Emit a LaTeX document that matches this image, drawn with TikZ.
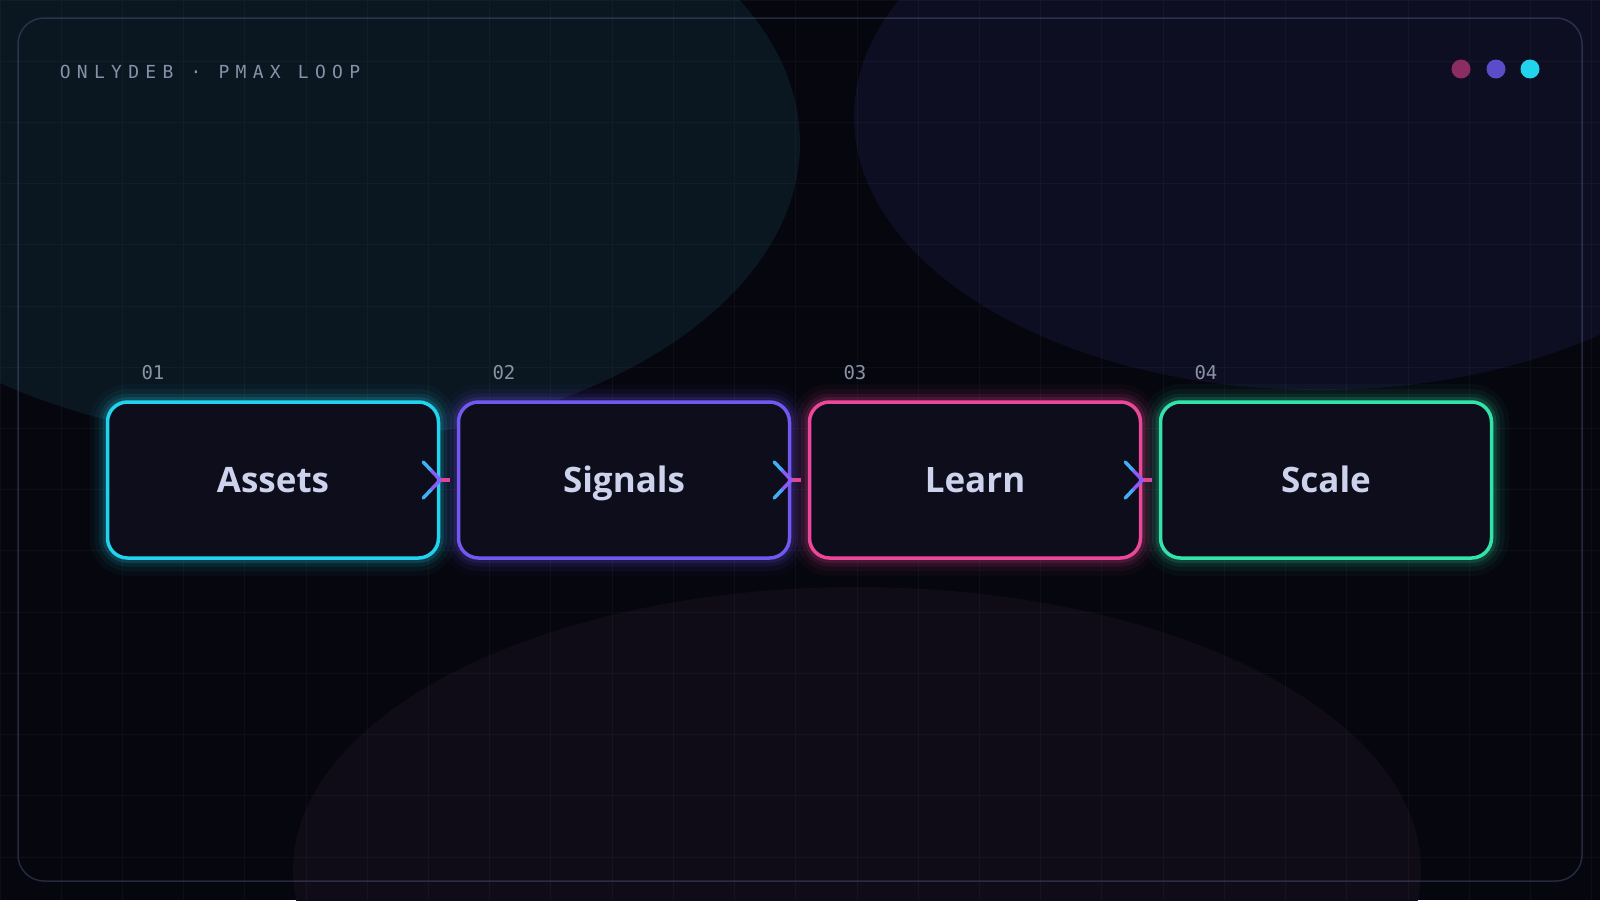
\documentclass[tikz,border=0pt]{standalone}
\usepackage{fontspec}
\setmainfont{Open Sans}
\newfontfamily\monofont{DejaVu Sans Mono}
\newfontfamily\spacedmono{DejaVu Sans Mono}[LetterSpace=35]
\usepackage{xcolor}
\usetikzlibrary{positioning,calc}

\definecolor{bgbase}{HTML}{05060E}
\definecolor{blobteal}{HTML}{0A1620}
\definecolor{blobindigo}{HTML}{0E0E22}
\definecolor{blobwine}{HTML}{0F0B17}
\definecolor{framecol}{HTML}{6F7BB0}
\definecolor{titlegray}{HTML}{8592A8}
\definecolor{numgray}{HTML}{8A92A6}
\definecolor{boxfill}{HTML}{0D0D1C}
\definecolor{labeltext}{HTML}{CDD3EC}
\definecolor{cyanline}{HTML}{22D3EE}
\definecolor{violetline}{HTML}{7058F0}
\definecolor{pinkline}{HTML}{EC4899}
\definecolor{greenline}{HTML}{34E3A8}
\definecolor{dotwine}{HTML}{8B2C62}
\definecolor{dotviolet}{HTML}{5B4CC9}
\definecolor{chevouter}{HTML}{3EAEF5}
\definecolor{chevinner}{HTML}{8A5CF5}
\definecolor{chevtail}{HTML}{D9469A}

\begin{document}
\begin{tikzpicture}[x=1pt, y=-1pt,
node distance={351pt}, line width=3.5pt,
stepbox/.style={draw=#1, fill=boxfill, rounded corners=20pt,
  minimum width=331pt, minimum height=156pt, text=labeltext,
  font=\bfseries\fontsize{35}{42}\selectfont, text height=25pt, text depth=0pt,
  preaction={draw=#1, line width=36pt, opacity=0.035},
  preaction={draw=#1, line width=26pt, opacity=0.055},
  preaction={draw=#1, line width=17pt, opacity=0.09},
  preaction={draw=#1, line width=10pt, opacity=0.14}},
numlabel/.style={text=numgray, font=\monofont\fontsize{19}{22}\selectfont, anchor=base west},
dot/.style={circle, minimum size=19pt},
gridline/.style={draw=white, opacity=0.035, line width=1pt},
outerarm/.style={draw=chevouter, line cap=round},
innerarm/.style={draw=chevinner, line cap=round, line join=round},
tail/.style={draw=chevtail}]
\tikzstyle{every node}=[inner sep=0pt]

% canvas
\useasboundingbox (0,0) rectangle (1600,900);
\clip (0,0) rectangle (1600,900);
\fill[bgbase] (0,0) rectangle (1600,900);
\fill[blobteal] (300,143) ellipse [x radius=500, y radius=300];
\fill[blobindigo] (1319,117) ellipse [x radius=465, y radius=273];
\fill[blobwine] (857,870) ellipse [x radius=564, y radius=283];
\draw[gridline, step=61.22pt] (0,0) grid (1600,900);
\draw[draw=framecol, opacity=0.3, line width=1.5pt, rounded corners=26pt] (18,18) rectangle (1582,881);

% header
\node[text=titlegray, font=\spacedmono\fontsize{18}{22}\selectfont, anchor=base west] (title) at (58,78) {ONLYDEB · PMAX LOOP};
\node[dot, fill=dotwine] (dot1) at (1461,69) {};
\node[dot, fill=dotviolet] (dot2) at (1496,69) {};
\node[dot, fill=cyanline] (dot3) at (1530,69) {};

% steps
\node[stepbox=cyanline] (assets) at (273,480) {Assets};
\node[stepbox=violetline] (signals) [right of=assets] {Signals};
\node[stepbox=pinkline] (learn) [right of=signals] {Learn};
\node[stepbox=greenline] (scale) [right of=learn] {Scale};

\node[numlabel] (n1) at ([shift={(34,-21)}]assets.north west) {01};
\node[numlabel] (n2) at ([shift={(34,-21)}]signals.north west) {02};
\node[numlabel] (n3) at ([shift={(34,-21)}]learn.north west) {03};
\node[numlabel] (n4) at ([shift={(34,-21)}]scale.north west) {04};

% arrows
\draw[tail] (assets.east) -- ($(assets.east)!0.6!(signals.west)$);
\draw[outerarm] ([shift={(-17,-18)}]assets.east) -- ([shift={(-8.5,-9)}]assets.east) ([shift={(-17,18)}]assets.east) -- ([shift={(-8.5,9)}]assets.east);
\draw[innerarm] ([shift={(-8.5,-9)}]assets.east) -- (assets.east) -- ([shift={(-8.5,9)}]assets.east);
\draw[tail] (signals.east) -- ($(signals.east)!0.6!(learn.west)$);
\draw[outerarm] ([shift={(-17,-18)}]signals.east) -- ([shift={(-8.5,-9)}]signals.east) ([shift={(-17,18)}]signals.east) -- ([shift={(-8.5,9)}]signals.east);
\draw[innerarm] ([shift={(-8.5,-9)}]signals.east) -- (signals.east) -- ([shift={(-8.5,9)}]signals.east);
\draw[tail] (learn.east) -- ($(learn.east)!0.6!(scale.west)$);
\draw[outerarm] ([shift={(-17,-18)}]learn.east) -- ([shift={(-8.5,-9)}]learn.east) ([shift={(-17,18)}]learn.east) -- ([shift={(-8.5,9)}]learn.east);
\draw[innerarm] ([shift={(-8.5,-9)}]learn.east) -- (learn.east) -- ([shift={(-8.5,9)}]learn.east);
\end{tikzpicture}
\end{document}
